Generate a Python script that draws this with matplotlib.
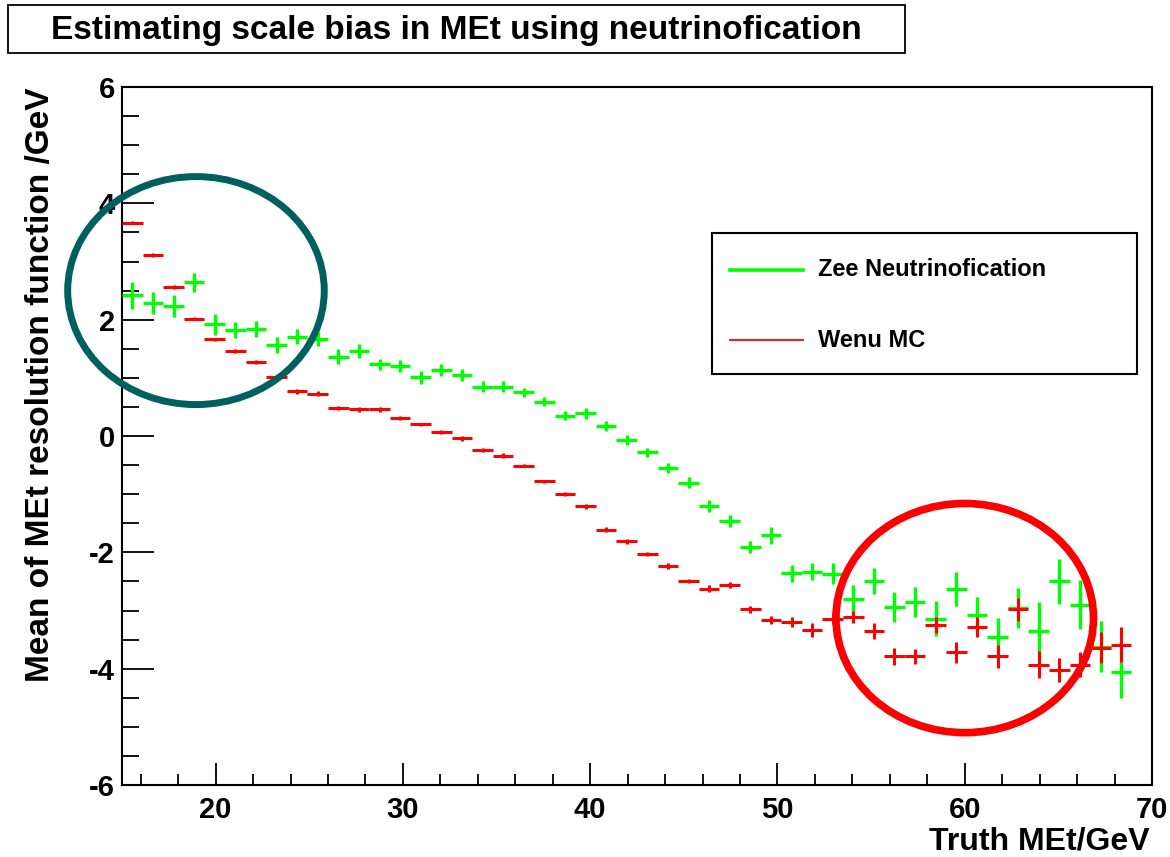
import numpy as np
import matplotlib
matplotlib.use("Agg")
import matplotlib.pyplot as plt
from matplotlib.patches import Ellipse, Rectangle
from matplotlib.lines import Line2D
from matplotlib.ticker import MultipleLocator

plt.rcParams['font.family'] = ['Liberation Sans', 'DejaVu Sans']
plt.rcParams['axes.unicode_minus'] = False

# binning: 50 bins from 15 to 70 GeV (last bin empty)
bin_lo = 15.0
bin_width = 1.1
n_filled = 49

# Zee neutrinofication: mean and error per bin
zee_mean = [2.42, 2.29, 2.23, 2.64, 1.92, 1.82, 1.84, 1.57, 1.71, 1.66,
            1.36, 1.46, 1.23, 1.20, 1.01, 1.13, 1.05, 0.85, 0.85, 0.75,
            0.59, 0.35, 0.39, 0.17, -0.07, -0.28, -0.55, -0.80, -1.20, -1.46,
            -1.91, -1.71, -2.36, -2.33, -2.37, -2.80, -2.49, -2.94, -2.86, -3.14,
            -2.63, -3.07, -3.45, -2.96, -3.35, -2.50, -2.90, -3.62, -4.06]
zee_err = [0.23, 0.19, 0.19, 0.17, 0.18, 0.14, 0.14, 0.14, 0.13, 0.12,
           0.13, 0.12, 0.10, 0.10, 0.11, 0.10, 0.10, 0.10, 0.10, 0.08,
           0.08, 0.08, 0.09, 0.09, 0.09, 0.08, 0.09, 0.09, 0.10, 0.11,
           0.11, 0.15, 0.15, 0.14, 0.18, 0.23, 0.22, 0.25, 0.26, 0.30,
           0.30, 0.30, 0.32, 0.34, 0.49, 0.38, 0.42, 0.44, 0.44]

# Wenu MC: mean and error per bin
wenu_mean = [3.67, 3.11, 2.56, 2.02, 1.66, 1.46, 1.27, 1.02, 0.77, 0.73,
             0.48, 0.46, 0.46, 0.31, 0.20, 0.07, -0.04, -0.24, -0.34, -0.51,
             -0.78, -1.00, -1.21, -1.61, -1.81, -2.03, -2.23, -2.49, -2.63, -2.56,
             -2.98, -3.16, -3.20, -3.33, -3.14, -3.11, -3.35, -3.79, -3.79, -3.25,
             -3.72, -3.28, -3.79, -2.98, -3.93, -4.02, -3.93, -3.64, -3.59]
wenu_err = [0.03, 0.03, 0.03, 0.03, 0.02, 0.03, 0.03, 0.03, 0.04, 0.04,
            0.04, 0.04, 0.04, 0.03, 0.03, 0.04, 0.04, 0.04, 0.04, 0.03,
            0.03, 0.04, 0.04, 0.04, 0.04, 0.04, 0.05, 0.04, 0.06, 0.05,
            0.06, 0.07, 0.08, 0.12, 0.09, 0.11, 0.14, 0.14, 0.13, 0.14,
            0.18, 0.17, 0.19, 0.20, 0.23, 0.21, 0.22, 0.27, 0.30]

x = bin_lo + bin_width * (np.arange(n_filled) + 0.5)

fig = plt.figure(figsize=(11.7, 8.57), dpi=100)
ax = fig.add_axes([122/1170, 1-785/857, 1030/1170, 698/857])

ax.errorbar(x, zee_mean, yerr=zee_err, xerr=bin_width/2, fmt='none',
            ecolor='#00ff00', elinewidth=2.4, capsize=0, zorder=3)
ax.errorbar(x, wenu_mean, yerr=wenu_err, xerr=bin_width/2, fmt='none',
            ecolor='#ff0000', elinewidth=2.2, capsize=0, zorder=4)

ax.set_xlim(15, 70)
ax.set_ylim(-6, 6)
ax.xaxis.set_major_locator(MultipleLocator(10))
ax.xaxis.set_minor_locator(MultipleLocator(2))
ax.yaxis.set_major_locator(MultipleLocator(2))
ax.yaxis.set_minor_locator(MultipleLocator(0.5))
ax.tick_params(axis='both', which='both', direction='in', width=1.3, colors='black')
ax.tick_params(axis='x', which='major', length=16, pad=8, labelsize=21)
ax.tick_params(axis='x', which='minor', length=8)
ax.tick_params(axis='y', which='major', length=23, pad=5, labelsize=21)
ax.tick_params(axis='y', which='minor', length=12)
for lab in ax.get_xticklabels() + ax.get_yticklabels():
    lab.set_fontweight('bold')
for sp in ax.spines.values():
    sp.set_linewidth(1.5)

# legend box drawn in axes coordinates
ax.add_patch(Rectangle((0.573, 0.589), 0.412, 0.202, transform=ax.transAxes,
                       facecolor='white', edgecolor='black', lw=1.5, zorder=6))
ax.add_line(Line2D([0.590, 0.661], [0.738, 0.738], transform=ax.transAxes,
                   color='#00ff00', lw=2.6, zorder=7))
ax.add_line(Line2D([0.590, 0.661], [0.637, 0.637], transform=ax.transAxes,
                   color='#ff0000', lw=1.3, zorder=7))
ax.text(0.676, 0.738, 'Zee Neutrinofication', transform=ax.transAxes,
        fontsize=17, fontweight='bold', va='center', ha='left', zorder=7)
ax.text(0.676, 0.637, 'Wenu MC', transform=ax.transAxes,
        fontsize=17, fontweight='bold', va='center', ha='left', zorder=7)

# highlight ellipses
ax.add_patch(Ellipse((18.95, 2.50), 13.7, 3.92, fill=False, edgecolor='#006060',
                     lw=5, clip_on=False, zorder=8))
ax.add_patch(Ellipse((60.0, -3.13), 13.75, 3.94, fill=False, edgecolor='#ff0000',
                     lw=5.5, clip_on=False, zorder=8))

# title box
fig.patches.append(Rectangle((8/1170, 1-53/857), 897/1170, 48/857,
                             transform=fig.transFigure, facecolor='white',
                             edgecolor='black', lw=1.3))
fig.text(456/1170, 1-30/857, 'Estimating scale bias in MEt using neutrinofication',
         fontsize=24, fontweight='bold', ha='center', va='center')

fig.text(41/1170, 1-88/857, 'Mean of MEt resolution function /GeV', rotation=90,
         fontsize=24, fontweight='bold', ha='center', va='top')
fig.text(1150/1170, 1-849/857, 'Truth MEt/GeV', fontsize=23, fontweight='bold',
         ha='right', va='baseline')

fig.savefig('out.png', dpi=100)
